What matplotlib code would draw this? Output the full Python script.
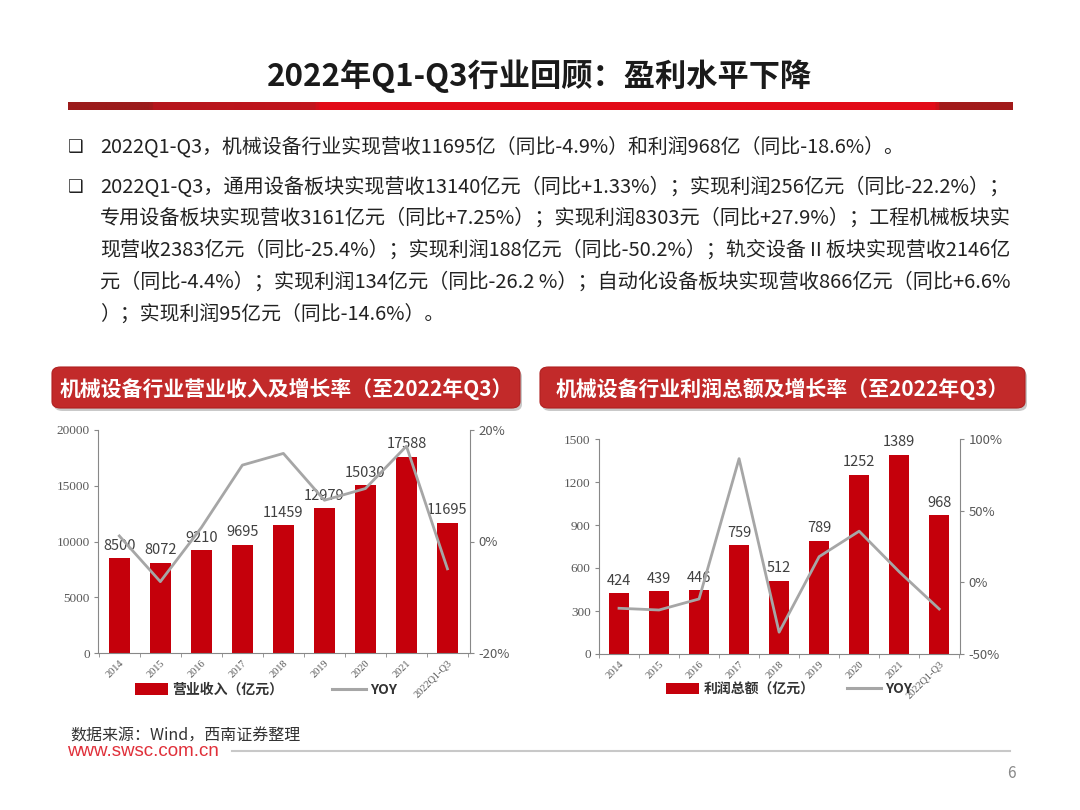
import numpy as np
import matplotlib.pyplot as plt
from matplotlib.patches import FancyBboxPatch, Rectangle
from matplotlib.lines import Line2D
from matplotlib.colors import LinearSegmentedColormap

plt.rcParams['font.family'] = ['Noto Sans CJK SC', 'DejaVu Sans']

years = ['2014', '2015', '2016', '2017', '2018', '2019', '2020', '2021', '2022Q1-Q3']
revenue = [8500, 8072, 9210, 9695, 11459, 12979, 15030, 17588, 11695]
revenue_yoy = [1.0, -7.2, 2.5, 13.7, 15.8, 7.4, 9.5, 17.1, -4.9]
profit = [424, 439, 446, 759, 512, 789, 1252, 1389, 968]
profit_yoy = [-18.1, -19.3, -11.6, 86.3, -34.8, 17.9, 35.7, 7.4, -18.6]

title = '2022年Q1-Q3行业回顾：盈利水平下降'
bullets = [
    '2022Q1-Q3，机械设备行业实现营收11695亿（同比-4.9%）和利润968亿（同比-18.6%）。',
    '2022Q1-Q3，通用设备板块实现营收13140亿元（同比+1.33%）；实现利润256亿元（同比-22.2%）；',
    '专用设备板块实现营收3161亿元（同比+7.25%）；实现利润8303元（同比+27.9%）；工程机械板块实',
    '现营收2383亿元（同比-25.4%）；实现利润188亿元（同比-50.2%）；轨交设备Ⅱ板块实现营收2146亿',
    '元（同比-4.4%）；实现利润134亿元（同比-26.2 %）；自动化设备板块实现营收866亿元（同比+6.6%',
    '）；实现利润95亿元（同比-14.6%）。',
]

W, H = 1080, 810
RED = '#C5000B'
GRAY = '#A6A6A6'
TXT = '#404040'

fig = plt.figure(figsize=(W / 100, H / 100), dpi=100)
fig.patch.set_facecolor('white')
renderer = fig.canvas.get_renderer()


def fx(x):
    return x / W


def fy(y):
    return 1 - y / H


# title + red bar
fig.text(0.5, fy(76), title, ha='center', va='center', fontsize=22.5,
         fontweight='bold', color='#1a1a1a')
bar_ax = fig.add_axes([fx(68), fy(110), fx(944), 8 / H])
cmap = LinearSegmentedColormap.from_list('bar', [
    (0, '#9B1B1B'), (0.085, '#9B1B1B'), (0.09, '#B5161C'), (0.26, '#C2141C'),
    (0.265, '#E20A17'), (0.92, '#E20A17'), (0.925, '#A11A1A'), (1, '#A11A1A')])
bar_ax.imshow(np.linspace(0, 1, 500).reshape(1, -1), aspect='auto', cmap=cmap)
bar_ax.axis('off')

# bullet text, full lines stretched to the right margin
line_y = [147, 187, 218, 250, 282, 314]
base_size = 14.3
for i, (txt, y) in enumerate(zip(bullets, line_y)):
    if i in (0, 1):
        fig.text(fx(68), fy(y), '❑', ha='left', va='center', fontsize=12.5,
                 color='#222222', family='DejaVu Sans')
    t = fig.text(fx(100), fy(y), txt, ha='left', va='center', fontsize=base_size,
                 color='#222222')
    if 1 <= i <= 4:
        w = t.get_window_extent(renderer).width
        t.set_fontsize(base_size * 912 / w)


def header(x0, x1, text):
    y0, y1 = 367, 408
    shadow = FancyBboxPatch((fx(x0 + 2), fy(y1 + 3)), fx(x1 - x0), (y1 - y0) / H,
                            boxstyle='round,pad=0,rounding_size=0.008',
                            transform=fig.transFigure, fc='#888888', ec='none', alpha=0.45)
    box = FancyBboxPatch((fx(x0), fy(y1)), fx(x1 - x0), (y1 - y0) / H,
                         boxstyle='round,pad=0,rounding_size=0.008',
                         transform=fig.transFigure, fc='#C22A2A', ec='#B02020', lw=0.8)
    fig.patches.extend([shadow, box])
    fig.text(fx((x0 + x1) / 2), fy((y0 + y1) / 2 + 1), text, ha='center', va='center',
             fontsize=15, fontweight='bold', color='white')


header(52, 520, '机械设备行业营业收入及增长率（至2022年Q3）')
header(540, 1025, '机械设备行业利润总额及增长率（至2022年Q3）')


def combo(rect, values, yoy, ylim, yticks, rlim, rticks, xlim, label_name, leg_x, colsp):
    ax = fig.add_axes(rect)
    x = np.arange(len(years))
    ax.bar(x, values, width=0.5, color=RED, zorder=2)
    for xi, v in zip(x, values):
        ax.annotate(str(v), (xi, v), xytext=(0, 4), textcoords='offset points',
                    ha='center', va='bottom', fontsize=10.5, color=TXT, zorder=4)
    ax.set_xlim(*xlim)
    ax.set_ylim(*ylim)
    ax.set_yticks(yticks)
    ax.set_yticklabels([str(t) for t in yticks], family='Liberation Serif',
                       fontsize=9.5, color='#595959')
    ax.set_xticks(x)
    ax.set_xticklabels(years, rotation=45, ha='right', va='top', rotation_mode='anchor',
                       family='Liberation Serif', fontsize=7.5, color='#595959')
    ax.set_xticks(np.arange(len(years) + 1) - 0.5, minor=True)
    ax.tick_params(axis='x', which='major', length=0, pad=4)
    ax.tick_params(axis='x', which='minor', length=3, color='#888888')
    ax.tick_params(axis='y', length=3, color='#888888', pad=3)
    for s in ['top', 'right']:
        ax.spines[s].set_visible(False)
    for s in ['left', 'bottom']:
        ax.spines[s].set_color('#888888')

    ax2 = ax.twinx()
    ax2.plot(x, yoy, color=GRAY, lw=2, zorder=3)
    ax2.set_ylim(*rlim)
    ax2.set_yticks(rticks)
    ax2.set_yticklabels([f'{t}%' for t in rticks], fontsize=9.5, color='#595959')
    ax2.tick_params(axis='y', length=3, color='#888888', pad=3)
    for s in ['top', 'left', 'bottom']:
        ax2.spines[s].set_visible(False)
    ax2.spines['right'].set_color('#888888')

    handles = [Rectangle((0, 0), 1, 1, fc=RED, ec='none'),
               Line2D([], [], color=GRAY, lw=2.2)]
    leg = ax.legend(handles, [label_name, 'YOY'], ncol=2, frameon=False,
                    loc='center', bbox_to_anchor=(leg_x, -0.165),
                    handlelength=2.4, handleheight=0.9, columnspacing=colsp,
                    handletextpad=0.3, prop={'size': 10, 'weight': 'bold'})
    for t in leg.get_texts():
        t.set_color('#333333')
    return ax


combo([fx(98), fy(653), fx(372), 223 / H], revenue, revenue_yoy,
      (0, 20000), [0, 5000, 10000, 15000, 20000],
      (-20, 20), [-20, 0, 20], (-0.52, 8.55), '营业收入（亿元）', 0.451, 3.55)
combo([fx(599), fy(654), fx(361), 215 / H], profit, profit_yoy,
      (0, 1500), [0, 300, 600, 900, 1200, 1500],
      (-50, 100), [-50, 0, 50, 100], (-0.5, 8.52), '利润总额（亿元）', 0.526, 2.35)

# footer
fig.text(fx(70), fy(736), '数据来源：Wind，西南证券整理', ha='left', va='center',
         fontsize=11.5, color='#333333', style='italic')
fig.text(fx(67), fy(752), 'www.swsc.com.cn', ha='left', va='center',
         fontsize=13.5, color='#E0303A', family='Liberation Sans')
fig.lines.append(Line2D([fx(232), fx(1010)], [fy(751), fy(751)],
                        transform=fig.transFigure, color='#C8C8C8', lw=1.5))
fig.text(fx(1011), fy(773), '6', ha='center', va='center', fontsize=11, color='#888888')

fig.savefig('out.png', dpi=100, facecolor='white')
